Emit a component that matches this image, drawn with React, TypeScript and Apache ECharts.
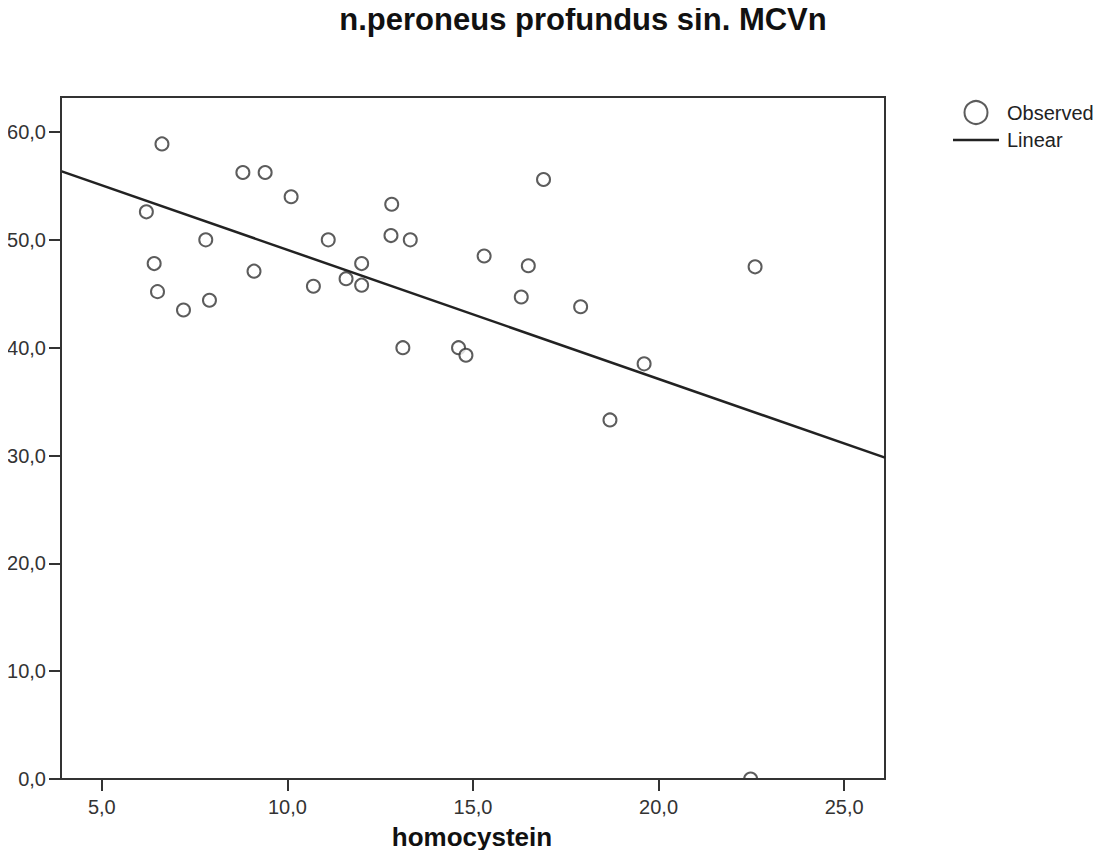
import React, { useEffect, useRef } from "react";
import * as echarts from "echarts";

const TITLE = "n.peroneus profundus sin. MCVn";
const X_NAME = "homocystein";

const homocystein: number[] = [
  6.62, 8.8, 9.4, 10.1, 6.2, 7.8, 11.1, 6.41, 9.1, 6.5,
  7.9, 7.2, 10.7, 11.58, 16.9, 12.81, 12.79, 13.31, 15.3, 16.49,
  12.0, 12.0, 16.3, 17.9, 13.11, 14.61, 14.81, 22.6, 19.61, 18.69,
  22.48,
];
const mcvn: number[] = [
  58.9, 56.25, 56.25, 54.0, 52.6, 50.0, 50.0, 47.8, 47.1, 45.2,
  44.4, 43.5, 45.7, 46.4, 55.6, 53.3, 50.4, 50.0, 48.5, 47.6,
  47.8, 45.8, 44.7, 43.8, 40.0, 40.0, 39.3, 47.5, 38.5, 33.3,
  0.0,
];

const X_MIN = 3.9;
const X_MAX = 26.1;
const Y_MIN = 0;
const Y_MAX = 63.25;
const xTicks: number[] = [5, 10, 15, 20, 25];
const yTicks: number[] = [0, 10, 20, 30, 40, 50, 60];

const fmt = (v: number) => v.toFixed(1).replace(".", ",");

function fit(xs: number[], ys: number[]) {
  const n = xs.length;
  const mx = xs.reduce((a, b) => a + b, 0) / n;
  const my = ys.reduce((a, b) => a + b, 0) / n;
  let sxy = 0;
  let sxx = 0;
  for (let i = 0; i < n; i++) {
    sxy += (xs[i] - mx) * (ys[i] - my);
    sxx += (xs[i] - mx) * (xs[i] - mx);
  }
  const b = sxy / sxx;
  return { a: my - b * mx, b };
}

export default function App() {
  const ref = useRef<HTMLDivElement>(null);
  useEffect(() => {
    if (!ref.current) return;
    const chart = echarts.init(ref.current, null, { renderer: "svg" });
    const { a, b } = fit(homocystein, mcvn);
    const lineData = [
      [X_MIN, a + b * X_MIN],
      [X_MAX, a + b * X_MAX],
    ];
    const font = "'Liberation Sans', Arial, sans-serif";
    chart.setOption({
      animation: false,
      backgroundColor: "#ffffff",
      textStyle: { fontFamily: font },
      grid: {
        left: 61,
        right: 216,
        top: 97,
        bottom: 79,
        show: true,
        borderColor: "#333",
        borderWidth: 2,
        backgroundColor: "transparent",
      },
      legend: {
        orient: "vertical",
        left: 953,
        top: 100,
        padding: 0,
        itemWidth: 46,
        itemHeight: 23,
        itemGap: 5,
        textStyle: { fontSize: 20, color: "#222", fontFamily: font, padding: [0, 0, 0, 3] },
        data: [
          { name: "Observed" },
          { name: "Linear", icon: "path://M0,0 H46 V2.5 H0 Z" },
        ],
      },
      graphic: [
        {
          type: "text",
          x: 583,
          y: 19,
          style: {
            text: TITLE,
            fill: "#111",
            font: `bold 31px ${font}`,
            textAlign: "center",
            textVerticalAlign: "middle",
          },
        },
        {
          type: "text",
          x: 472,
          y: 837,
          style: {
            text: X_NAME,
            fill: "#111",
            font: `bold 26px ${font}`,
            textAlign: "center",
            textVerticalAlign: "middle",
          },
        },
        {
          // white strip below the plot frame: points on the frame show only their upper half
          type: "rect",
          z: 4,
          shape: { x: 50, y: 780, width: 850, height: 10 },
          style: { fill: "#ffffff" },
          silent: true,
        },
      ],
      xAxis: {
        type: "value",
        min: X_MIN,
        max: X_MAX,
        z: 6,
        splitLine: { show: false },
        axisLine: { show: true, onZero: false, lineStyle: { color: "#333", width: 2 } },
        axisTick: { show: true, length: 12, lineStyle: { color: "#333", width: 2 }, customValues: xTicks },
        axisLabel: {
          customValues: xTicks,
          formatter: (v: number) => fmt(v),
          fontSize: 20,
          color: "#333",
          margin: 18,
          fontFamily: font,
        },
      },
      yAxis: {
        type: "value",
        min: Y_MIN,
        max: Y_MAX,
        z: 6,
        splitLine: { show: false },
        axisLine: { show: true, onZero: false, lineStyle: { color: "#333", width: 2 } },
        axisTick: { show: true, length: 12, lineStyle: { color: "#333", width: 2 }, customValues: yTicks },
        axisLabel: {
          customValues: yTicks,
          formatter: (v: number) => fmt(v),
          fontSize: 20,
          color: "#333",
          margin: 15,
          fontFamily: font,
        },
      },
      series: [
        {
          name: "Observed",
          type: "scatter",
          symbol: "circle",
          symbolSize: 13,
          itemStyle: { color: "#ffffff", borderColor: "#333", borderWidth: 2 },
          data: homocystein.map((x, i) => [x, mcvn[i]]),
          z: 3,
        },
        {
          name: "Linear",
          type: "line",
          symbol: "none",
          lineStyle: { color: "#222", width: 2.5 },
          itemStyle: { color: "#222" },
          data: lineData,
          z: 2,
        },
      ],
    });
    return () => chart.dispose();
  }, []);
  return <div ref={ref} style={{ width: 1101, height: 858, margin: -8 }} />;
}
